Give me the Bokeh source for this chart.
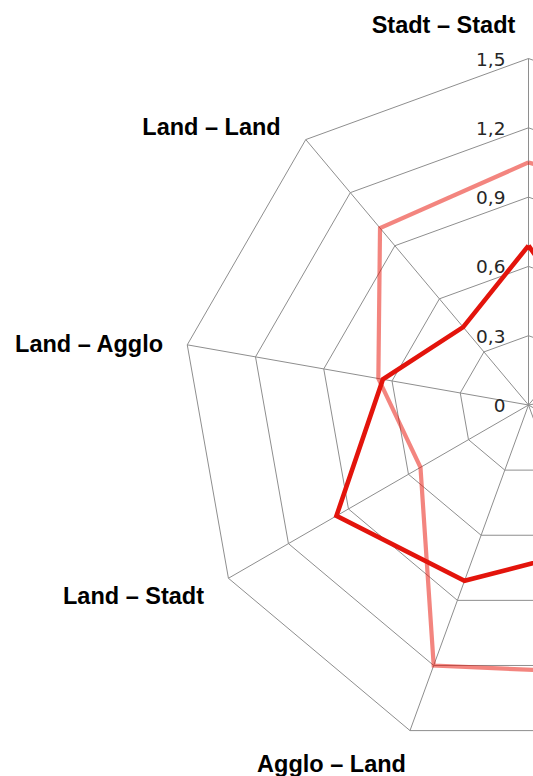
import numpy as np
from bokeh.plotting import figure
from bokeh.models import Range1d
from bokeh.core.properties import value
from bokeh.embed import file_html
from bokeh.resources import INLINE

# ---- data ----
categories = ["Stadt – Stadt", "Stadt – Agglo", "Stadt – Land", "Agglo – Stadt",
              "Agglo – Agglo", "Agglo – Land", "Land – Stadt", "Land – Agglo", "Land – Land"]
series_light = [1.05, 1.10, 1.15, 1.10, 1.24, 1.20, 0.54, 0.66, 1.00]
series_dark = [0.69, 0.41, 0.45, 0.50, 0.67, 0.81, 0.96, 0.64, 0.44]
tick_values = [0, 0.3, 0.6, 0.9, 1.2, 1.5]
tick_labels = ["0", "0,3", "0,6", "0,9", "1,2", "1,5"]

# ---- layout ----
W, H = 533, 776
CX, CY = 528.0, 404.5      # centre of the radar in figure pixels
S = 231.0                  # pixels per value unit
MAXV = 1.5

p = figure(width=W, height=H, output_backend="svg", toolbar_location=None,
           x_range=Range1d(-CX / S, (W - CX) / S),
           y_range=Range1d(-(H - CY) / S, CY / S),
           x_axis_type=None, y_axis_type=None, min_border=0)
p.grid.visible = False
p.outline_line_color = None
p.background_fill_color = "white"
p.border_fill_color = "white"

n = len(categories)
theta = np.deg2rad(90 - 360.0 / n * np.arange(n))
ct, st = np.cos(theta), np.sin(theta)

# rings
ring_xs = [list(np.append(v * ct, v * ct[0])) for v in tick_values[1:]]
ring_ys = [list(np.append(v * st, v * st[0])) for v in tick_values[1:]]
p.multi_line(ring_xs, ring_ys, line_color="#8e8e8e", line_width=1)
# spokes
spoke_xs = [[0, MAXV * c] for c in ct]
spoke_ys = [[0, MAXV * s] for s in st]
p.multi_line(spoke_xs, spoke_ys, line_color="#8e8e8e", line_width=1)

# series
def closed(vals):
    v = np.array(vals)
    x = v * ct
    y = v * st
    return list(np.append(x, x[0])), list(np.append(y, y[0]))

lx, ly = closed(series_light)
p.line(lx, ly, line_color="#E8150A", line_alpha=0.52, line_width=4.2, line_join="miter")
dx, dy = closed(series_dark)
p.line(dx, dy, line_color="#E3140C", line_width=4.6, line_join="miter")

# tick labels on the top spoke
p.text(x=[0] * len(tick_values), y=tick_values, text=tick_labels,
       text_font=value("DejaVu Sans"), text_font_size="18.5px", text_color="#262626",
       text_align="right", text_baseline="alphabetic", x_offset=-23, y_offset=0.5)

# category labels that fall inside the visible area (centre x, baseline y in pixels)
label_px = {
    "Stadt – Stadt": (443, 24),
    "Land – Land": (211, 126),
    "Land – Agglo": (89, 343),
    "Land – Stadt": (133, 595),
    "Agglo – Land": (331, 763),
}
lab_x, lab_y, lab_t = [], [], []
for c in categories:
    if c in label_px:
        X, Y = label_px[c]
        lab_x.append((X - CX) / S)
        lab_y.append((CY - Y) / S)
        lab_t.append(c)
p.text(x=lab_x, y=lab_y, text=lab_t, text_font=value("Liberation Sans"),
       text_font_style="bold", text_font_size="23.5px", text_color="#000000",
       text_align="center", text_baseline="alphabetic")

open("out.html", "w").write(file_html(p, INLINE))
